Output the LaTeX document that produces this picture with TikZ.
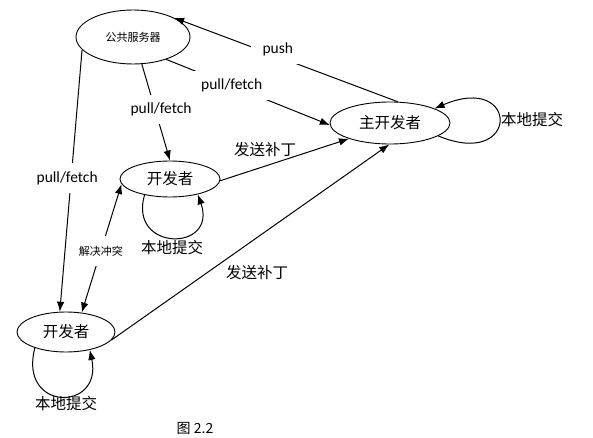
\documentclass[tikz,border=0pt]{standalone}
\usepackage{fontspec}
\setmainfont{Carlito}
\newfontfamily\cjk{Noto Sans CJK SC}
\usetikzlibrary{shapes.geometric,arrows.meta}
\begin{document}
\begin{tikzpicture}[x=1pt,y=-1pt,
  ell/.style={draw,ellipse,inner sep=0pt,line width=0.9pt},
  con/.style={line width=1pt,-{Latex[length=10pt,width=7.5pt]}},
  lbl/.style={fill=white,inner xsep=12pt,inner ysep=8pt,font=\fontsize{15.5}{17}\selectfont},
  cn/.style={font=\cjk\fontsize{15.5}{18}\selectfont,inner sep=1pt}]
\useasboundingbox (0,0) rectangle (593,438);
\node[ell,minimum width=114pt,minimum height=54pt,font=\cjk\fontsize{11}{13}\selectfont] (srv) at (133,37) {公共服务器};
\node[ell,minimum width=120pt,minimum height=42pt,cn] (main) at (390,123) {主开发者};
\node[ell,minimum width=100pt,minimum height=36pt,cn] (mid) at (170,179) {开发者};
\node[ell,minimum width=98pt,minimum height=40pt,cn] (bot) at (66,332) {开发者};

% push
\draw[con] (main.70) -- node[lbl,pos=0.55,yshift=6pt,xshift=3pt] {push} (srv.25);
% pull/fetch to main
\draw[con] (srv.-34) -- node[lbl,pos=0.4] {pull/fetch} (main.182);
% pull/fetch to mid
\draw[con] (srv.-72) -- node[lbl,pos=0.47,xshift=6pt] {pull/fetch} (mid.90);
% pull/fetch to bottom
\draw[con] (srv.-166) -- node[lbl,pos=0.49,xshift=-4pt] {pull/fetch} (bot.107);
% resolve conflict
\draw[line width=1pt,{Latex[length=10pt,width=7.5pt]}-{Latex[length=10pt,width=7.5pt]}] (bot.51) -- node[fill=white,inner xsep=3pt,inner ysep=10pt,font=\cjk\fontsize{11}{13}\selectfont,pos=0.48] {解决冲突} (mid.186);
% send patches
\draw[con] (mid.-2) -- (main.-159);
\node[cn] (s1) at (265,150) {发送补丁};
\draw[con] (bot.-10) -- (main.-92);
\node[cn] (s2) at (257,273) {发送补丁};
% self loops
\draw[con] (main.-15) .. controls (520,170) and (520,72) .. (main.18);
\node[cn] (l1) at (532,120) {本地提交};
\draw[con] (mid.-148) .. controls (128,252) and (218,252) .. (mid.-29);
\node[cn] (l2) at (172,248) {本地提交};
\draw[con] (bot.-153) .. controls (18,412) and (103,412) .. (bot.-37);
\node[cn] (l3) at (66,404) {本地提交};
\node[font=\cjk\fontsize{14}{16}\selectfont] (cap) at (195,428) {图 2.2};
\end{tikzpicture}
\end{document}
